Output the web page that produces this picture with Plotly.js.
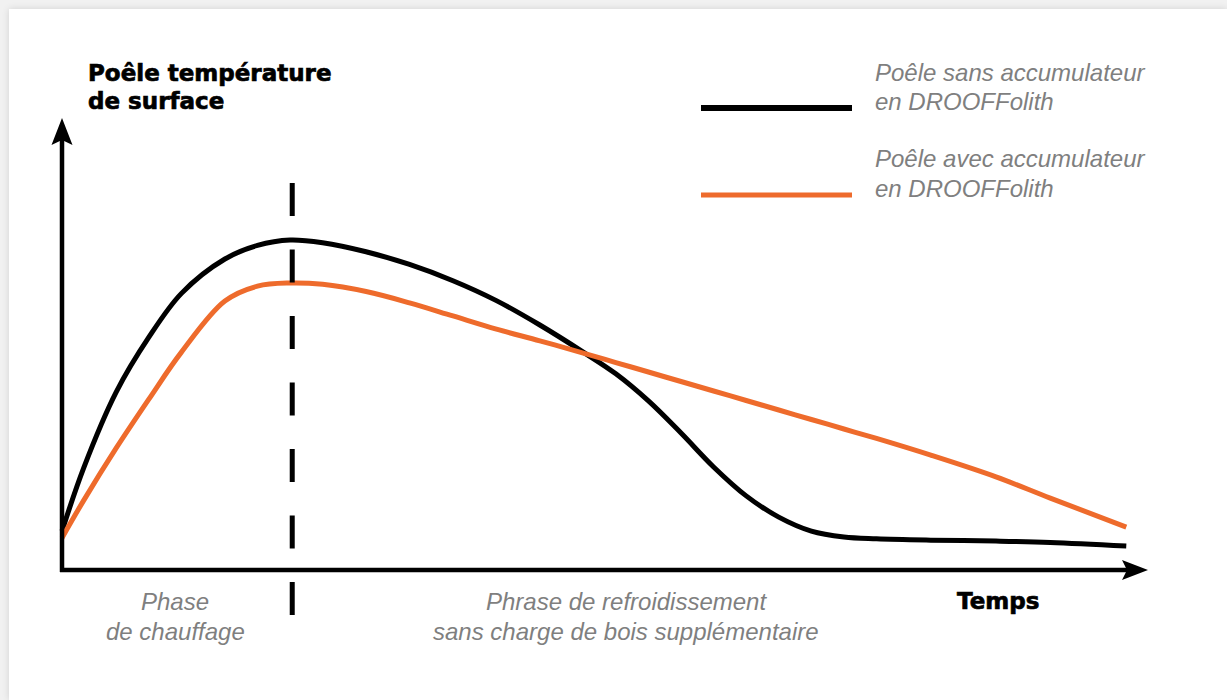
<!DOCTYPE html>
<html>
<head>
<meta charset="utf-8">
<script src="https://cdn.plot.ly/plotly-3.0.1.min.js"></script>
<style>
  html, body { margin: 0; padding: 0; width: 1227px; height: 700px; overflow: hidden; background: #f1f1f1; }
  #card { position: absolute; left: 9px; top: 9px; width: 1218px; height: 691px; background: #ffffff;
          box-shadow: 0 0 7px rgba(0,0,0,0.13); }
  #chart { position: absolute; left: 0; top: 0; width: 1227px; height: 700px; }
  #chart tspan[style*="bold"] { stroke: #000; stroke-width: 0.7px; }
</style>
</head>
<body>
<div id="card"></div>
<div id="chart"></div>
<script>
// ---- data (time in arbitrary units 0..100, temperature in arbitrary units 0..100) ----
const time = [0, 2, 5, 8, 11, 15, 18, 21, 24, 28, 32, 36, 40, 44, 48, 51, 54, 57, 60, 63, 66, 69, 72, 75, 80, 86, 91, 98];
const sansAccumulateur = [8.6, 22.6, 39.4, 51.5, 61.2, 68.8, 71.8, 73.0, 72.4, 70.4, 67.6, 64.0, 59.6, 54.2, 48.2, 43.4, 37.4, 30.3, 22.8, 16.4, 11.7, 8.6, 7.3, 6.9, 6.6, 6.4, 6.1, 5.3];
const avecAccumulateur = [7.1, 15.4, 27.0, 37.8, 48.2, 59.5, 62.8, 63.5, 63.2, 61.6, 59.1, 56.2, 53.3, 50.7, 48.0, 45.9, 43.8, 41.7, 39.6, 37.5, 35.4, 33.3, 31.2, 29.1, 25.4, 20.6, 15.9, 9.5];
const seriesNames = ["Poêle sans accumulateur<br>en DROOFFolith", "Poêle avec accumulateur<br>en DROOFFolith"];
const seriesColors = ["#000000", "#ee6b2c"];
const yTitle = "Poêle température<br>de surface";
const xTitle = "Temps";
const phaseSplit = 21.2;          // end of heating phase (time units)
const phaseLabels = ["Phase<br>de chauffage", "Phrase de refroidissement<br>sans charge de bois supplémentaire"];
const axisMax = 100;              // arrow tips of both axes

// ---- layout helpers ----
const W = 1227, H = 700;
const X0 = 62, XS = 10.86, Y0 = 570, YS = 4.52;   // plot origin (px) and px per unit
const px = v => v / W;
const py = v => 1 - v / H;
const dx = p => p / XS;           // pixel offset -> x units
const dy = p => -p / YS;          // pixel offset (down positive) -> y units
const GRAY = "#7f7f7f";
const italicFont = { family: "Liberation Sans, Arial, sans-serif", size: 24, color: GRAY };
const boldFont = { family: "DejaVu Sans, sans-serif", size: 23, color: "#000000" };

const traces = [
  { x: time, y: sansAccumulateur, name: seriesNames[0], type: "scatter", mode: "lines",
    line: { color: seriesColors[0], width: 5, shape: "spline", smoothing: 1 }, hoverinfo: "skip" },
  { x: time, y: avecAccumulateur, name: seriesNames[1], type: "scatter", mode: "lines",
    line: { color: seriesColors[1], width: 5, shape: "spline", smoothing: 1 }, hoverinfo: "skip" }
];

const annotations = [];
function addLines(text, xPix, yPix, spacing, font, anchor) {
  text.split("<br>").forEach((t, i) => {
    annotations.push({ xref: "paper", yref: "paper", x: px(xPix), y: py(yPix + i * spacing),
      text: font === boldFont ? "<b>" + t + "</b>" : "<i>" + t + "</i>",
      showarrow: false, xanchor: anchor, yanchor: "middle", font: font });
  });
}
addLines(yTitle, 86, 73, 28, boldFont, "left");
addLines(xTitle, 998, 601, 28, boldFont, "center");
addLines(seriesNames[0], 873, 72.5, 29, italicFont, "left");
addLines(seriesNames[1], 873, 159, 29.5, italicFont, "left");
addLines(phaseLabels[0], 175, 601, 30.5, italicFont, "center");
addLines(phaseLabels[1], 626, 601, 30.5, italicFont, "center");

// axis arrowheads (notched triangles) built relative to the axis tips
function pathFrom(pts) {
  return pts.map((p, i) => (i ? "L" : "M") + p[0] + "," + p[1]).join(" ") + " Z";
}
const xTipPath = pathFrom([[axisMax, 0], [axisMax + dx(-26), dy(-10)], [axisMax + dx(-21), 0], [axisMax + dx(-26), dy(10)]]);
const yTipPath = pathFrom([[0, axisMax], [dx(-10.5), axisMax + dy(27)], [0, axisMax + dy(22)], [dx(10.5), axisMax + dy(27)]]);

const shapes = [
  // axes
  { type: "line", xref: "x", yref: "y", x0: dx(-2), y0: 0, x1: axisMax + dx(-20), y1: 0,
    line: { color: "#000", width: 4.5 } },
  { type: "line", xref: "x", yref: "y", x0: 0, y0: dy(2), x1: 0, y1: axisMax + dy(21),
    line: { color: "#000", width: 4.5 } },
  { type: "path", xref: "x", yref: "y", path: xTipPath, fillcolor: "#000", line: { width: 0 } },
  { type: "path", xref: "x", yref: "y", path: yTipPath, fillcolor: "#000", line: { width: 0 } },
  // dashed phase separator
  { type: "line", xref: "x", yref: "y", x0: phaseSplit, x1: phaseSplit, y0: 85.6, y1: -10.6,
    line: { color: "#000", width: 5, dash: "33px,33.5px" } },
  // legend swatches
  { type: "line", xref: "paper", yref: "paper", x0: px(701), x1: px(852), y0: py(108), y1: py(108),
    line: { color: seriesColors[0], width: 6 } },
  { type: "line", xref: "paper", yref: "paper", x0: px(701), x1: px(852), y0: py(195), y1: py(195),
    line: { color: seriesColors[1], width: 5 } }
];

const layout = {
  width: W, height: H,
  margin: { l: 0, r: 0, t: 0, b: 0, pad: 0 },
  paper_bgcolor: "rgba(0,0,0,0)", plot_bgcolor: "rgba(0,0,0,0)",
  showlegend: false,
  xaxis: { range: [-X0 / XS, (W - X0) / XS], visible: false, fixedrange: true },
  yaxis: { range: [-(H - Y0) / YS, Y0 / YS], visible: false, fixedrange: true },
  annotations: annotations,
  shapes: shapes
};

Plotly.newPlot("chart", traces, layout, { staticPlot: true, displayModeBar: false });
</script>
</body>
</html>
